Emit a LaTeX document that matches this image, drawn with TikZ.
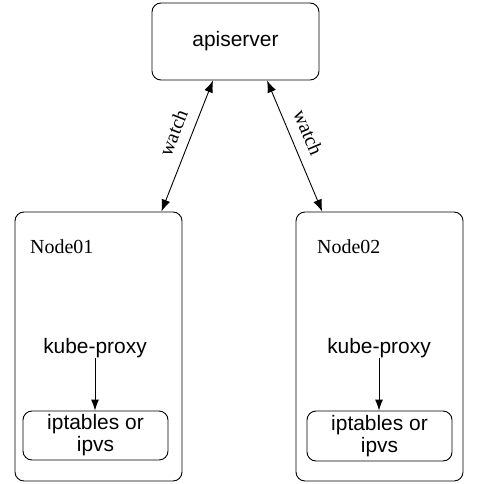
\documentclass[tikz,border=0pt]{standalone}
\usepackage{fontspec}
\usepackage{tikz}
\usetikzlibrary{positioning,arrows.meta}
\newfontfamily\sansfont{Liberation Sans}
\newfontfamily\seriffont{Liberation Serif}
\tikzstyle{box} = [draw, rounded corners=9bp, line width=0.9bp, align=center]
\tikzstyle{sans} = [font=\sansfont\fontsize{21}{22}\selectfont]
\tikzstyle{serif} = [font=\seriffont\fontsize{20}{22}\selectfont]
\tikzstyle{link} = [line width=0.9bp, {Latex[length=12bp,width=9bp]}-{Latex[length=12bp,width=9bp]}]

\begin{document}
\begin{tikzpicture}[x=1bp,y=-1bp]
 \useasboundingbox (0,0) rectangle (490,484);

    % Draw the boxes
    \node[box,sans,minimum width=167bp,minimum height=77bp] (api) at (235.5,41.5) {apiserver};
    \node[box,minimum width=167bp,minimum height=269bp] (n1) at (98.5,346.5) {};
    \node[box,minimum width=167bp,minimum height=269bp] (n2) at (379.5,346.5) {};

    \node[serif,anchor=base west,inner sep=0] (n1name) at (30,253) {Node01};
    \node[serif,anchor=base west,inner sep=0] (n2name) at (317,253) {Node02};

    % kube-proxy and its rules
    \node[sans,inner sep=0] (kp1) at (95,348) {kube-proxy};
    \node[sans,inner sep=0] (kp2) at (379,348) {kube-proxy};
    \node[box,sans,minimum width=145bp,minimum height=49bp,inner sep=0] (ipt1) at (95.5,435.5) {iptables or\\ipvs};
    \node[box,sans,minimum width=145bp,minimum height=50bp,inner sep=0] (ipt2) at (379.5,436) {iptables or\\ipvs};

    \draw[line width=0.9bp,-{Latex[length=11bp,width=8bp]}] (kp1.south) -- (kp1.south |- ipt1.north);
    \draw[line width=0.9bp,-{Latex[length=11bp,width=8bp]}] (kp2.south) -- (kp2.south |- ipt2.north);

    % Draw the two watch links
    \draw[link] (api.240) -- (n1.65) node[serif,pos=0.45,sloped,above=7bp] {watch};
    \draw[link] (api.-51) -- (n2.113) node[serif,pos=0.45,sloped,above=7bp] {watch};

\end{tikzpicture}
\end{document}
